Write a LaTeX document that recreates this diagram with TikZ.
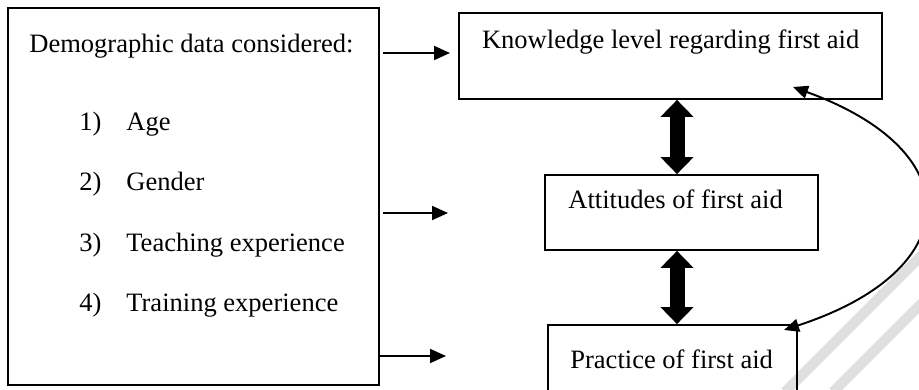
\documentclass[tikz,border=0pt]{standalone}
\usepackage{fontspec}
\setmainfont{Liberation Serif}
\usetikzlibrary{arrows.meta}

\begin{document}
\begin{tikzpicture}[font=\fontsize{15.1}{18}\selectfont,
    box/.style={draw, line width=1pt, inner sep=0pt},
    txt/.style={inner sep=0pt, anchor=base west},
    thin arrow/.style={-{Triangle[length=0.32cm, width=0.28cm]}, line width=1.1pt},
    loop arrow/.style={{Triangle[length=0.3cm, width=0.26cm]}-{Triangle[length=0.3cm, width=0.26cm]}, line width=1.1pt},
    fat arrow/.style={{Triangle[length=0.34cm, width=0.64cm]}-{Triangle[length=0.34cm, width=0.64cm]}, line width=0.3cm}]

        \useasboundingbox (0,0) rectangle (18.38,7.78);

        % Watermark stripes
        \draw[gray!25, line width=0.2cm] (18.5,2.74) -- (15.7,-0.06);
        \draw[gray!25, line width=0.2cm] (18.6,1.88) -- (16.66,-0.06);

        % Demographic box
        \node[box, minimum width=7.42cm, minimum height=7.54cm] (demo) at (3.87,3.85) {};
        \node[txt] (demotitle) at (0.58,6.74) {Demographic data considered:};
        \node[txt] (num1) at (1.58,5.18) {1)};
        \node[txt] (item1) at (2.52,5.18) {Age};
        \node[txt] (num2) at (1.58,3.97) {2)};
        \node[txt] (item2) at (2.52,3.97) {Gender};
        \node[txt] (num3) at (1.58,2.76) {3)};
        \node[txt] (item3) at (2.52,2.76) {Teaching experience};
        \node[txt] (num4) at (1.58,1.55) {4)};
        \node[txt] (item4) at (2.52,1.55) {Training experience};

        % Outcome boxes
        \node[box, minimum width=8.46cm, minimum height=1.72cm] (know) at (13.41,6.66) {};
        \node[txt] (knowtext) at (9.634,6.82) {Knowledge level regarding first aid};
        \node[box, minimum width=5.46cm, minimum height=1.5cm] (att) at (13.63,3.53) {};
        \node[txt] (atttext) at (11.36,3.62) {Attitudes of first aid};
        \node[box, minimum width=4.98cm, minimum height=1.9cm] (prac) at (13.45,0.33) {};
        \node[txt] (practext) at (11.40,0.42) {Practice of first aid};

        % Arrows out of the demographic box
        \coordinate (s1) at (7.66,6.72);
        \coordinate (e1) at (9.0,6.72);
        \coordinate (s2) at (7.66,3.52);
        \coordinate (e2) at (8.96,3.52);
        \coordinate (s3) at (7.60,0.66);
        \coordinate (e3) at (8.92,0.66);
        \draw[thin arrow] (s1) -- (e1);
        \draw[thin arrow] (s2) -- (e2);
        \draw[thin arrow] (s3) -- (e3);

        % Double arrows between the outcome boxes
        \coordinate (ax) at (13.54,0);
        \draw[fat arrow] (know.south -| ax) -- (att.north -| ax);
        \draw[fat arrow] (att.south -| ax) -- (prac.north -| ax);

        % Curved arrow from practice back to knowledge
        \coordinate (pp) at (15.68,1.18);
        \coordinate (kp) at (15.86,6.04);
        \draw[loop arrow] (pp) .. controls (19.30,2.36) and (19.44,4.74) .. (kp);

\end{tikzpicture}
\end{document}
